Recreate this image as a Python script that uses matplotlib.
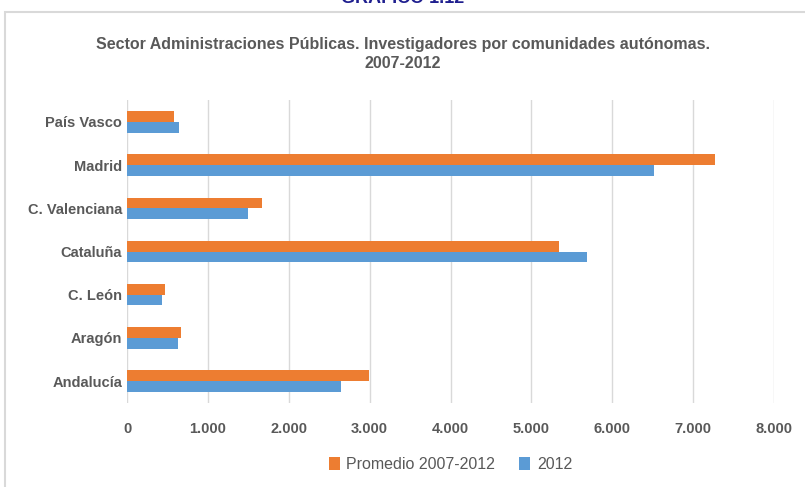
import numpy as np
import matplotlib
matplotlib.use("Agg")
import matplotlib.pyplot as plt
from matplotlib.patches import Rectangle
from matplotlib.ticker import FuncFormatter

plt.rcParams['font.family'] = ['Liberation Sans Narrow', 'Liberation Sans', 'DejaVu Sans']

regions = ['Andalucía', 'Aragón', 'C. León', 'Cataluña', 'C. Valenciana', 'Madrid', 'País Vasco']
promedio = [2990, 670, 475, 5340, 1670, 7270, 585]
y2012 = [2650, 630, 430, 5690, 1500, 6520, 640]
xticks = [0, 1000, 2000, 3000, 4000, 5000, 6000, 7000, 8000]

orange = '#ED7D31'
blue = '#5B9BD5'
grey = '#595959'

fig = plt.figure(figsize=(8.05, 4.87), dpi=100)

# chart frame
fig.patches.append(Rectangle((5 / 805, -0.1), 1.0, (487 - 12) / 487 + 0.1,
                             transform=fig.transFigure, fill=False,
                             edgecolor='#D9D9D9', linewidth=1.5))
fig.text(0.5, 1.003, 'GRÁFICO 1.12', ha='center', va='center', color='#1F1F8F',
         fontsize=13, fontweight='bold')
fig.text(0.5, 1 - 44 / 487, 'Sector Administraciones Públicas. Investigadores por comunidades autónomas.',
         ha='center', va='center', color=grey, fontsize=11.5, fontweight='bold')
fig.text(0.5, 1 - 64 / 487, '2007-2012', ha='center', va='center', color=grey,
         fontsize=11.5, fontweight='bold')

ax = fig.add_axes([127 / 805, 84.4 / 487, 647 / 805, 302.2 / 487])
y = np.arange(len(regions))
h = 0.25
ax.barh(y + h / 2, promedio, height=h, color=orange, label='Promedio 2007-2012', zorder=3)
ax.barh(y - h / 2, y2012, height=h, color=blue, label='2012', zorder=3)

ax.set_xlim(0, 8000)
ax.set_ylim(-0.5, len(regions) - 0.5)
ax.set_xticks(xticks)
ax.xaxis.set_major_formatter(FuncFormatter(lambda v, p: f'{int(v):,}'.replace(',', '.')))
ax.set_yticks(y)
ax.set_yticklabels(regions)
ax.grid(axis='x', color='#D9D9D9', linewidth=1, zorder=0)
for s in ax.spines.values():
    s.set_visible(False)
ax.tick_params(length=0, colors=grey, labelsize=10.5)
ax.tick_params(axis='x', pad=14)
for t in ax.get_xticklabels() + ax.get_yticklabels():
    t.set_fontweight('bold')

ax.legend(loc='center', bbox_to_anchor=(0.5, -0.205), ncol=2, frameon=False,
          fontsize=11.5, labelcolor=grey, handlelength=0.7, handleheight=0.9,
          columnspacing=1.5, handletextpad=0.4)

fig.savefig('out.png', dpi=100)
